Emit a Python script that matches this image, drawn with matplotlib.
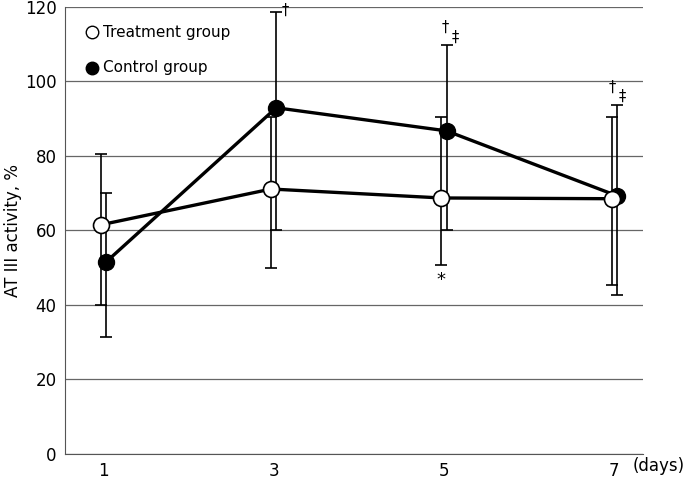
import matplotlib.pyplot as plt
import numpy as np

days = [1, 3, 5, 7]
day_labels = ['1', '3', '5', '7']

# mean and error bar ends
treat_mean = [61.5, 71.1, 68.7, 68.5]
treat_upper = [80.5, 90.5, 90.5, 90.5]
treat_lower = [40.0, 49.9, 50.7, 45.4]

ctrl_mean = [51.5, 92.9, 86.7, 69.3]
ctrl_upper = [70.0, 118.7, 109.8, 93.7]
ctrl_lower = [31.4, 60.1, 60.1, 42.7]

# significance marks near the control bars: (text, x, y)
marks = [('†', 3.14, 119.0),
         ('†', 5.01, 114.4), ('‡', 5.13, 111.7),
         ('†', 6.98, 98.3), ('‡', 7.09, 95.9)]

yticks = [0, 20, 40, 60, 80, 100, 120]

fig = plt.figure(figsize=(6.85, 4.82), dpi=100)
ax = fig.add_axes([0.095, 0.058, 0.844, 0.928])

x = np.array(days, dtype=float)
xt = x - 0.03
xc = x + 0.03

t_mean = np.array(treat_mean)
c_mean = np.array(ctrl_mean)
t_err = [t_mean - np.array(treat_lower), np.array(treat_upper) - t_mean]
c_err = [c_mean - np.array(ctrl_lower), np.array(ctrl_upper) - c_mean]

ax.errorbar(xc, c_mean, yerr=c_err, fmt='none', ecolor='black', elinewidth=1.2,
            capsize=4, capthick=1.2, zorder=3)
ax.errorbar(xt, t_mean, yerr=t_err, fmt='none', ecolor='black', elinewidth=1.2,
            capsize=4, capthick=1.2, zorder=3)
ax.plot(xc, c_mean, color='black', lw=2.4, marker='o', ms=11.5,
        mfc='black', mec='black', zorder=4)
ax.plot(xt, t_mean, color='black', lw=2.4, marker='o', ms=11.5,
        mfc='white', mec='black', mew=1.2, zorder=5)

for s, mx, my in marks:
    ax.text(mx, my, s, fontsize=10.5, ha='center', va='center', clip_on=False)
ax.text(5 - 0.03, treat_lower[2] - 1.5, '*', fontsize=13, ha='center', va='top')

# legend drawn as text inside the plot
ax.plot([0.87], [113.2], 'o', ms=9, mfc='white', mec='black', mew=1, clip_on=False)
ax.text(1.0, 113.2, 'Treatment group', fontsize=11, va='center')
ax.plot([0.87], [103.7], 'o', ms=9, mfc='black', mec='black', clip_on=False)
ax.text(1.0, 103.7, 'Control group', fontsize=11, va='center')

ax.set_xlim(0.55, 7.34)
ax.set_ylim(0, 120)
ax.set_yticks(yticks)
ax.set_yticklabels([str(v) for v in yticks], fontsize=12)
ax.set_xticks(days)
ax.set_xticklabels(day_labels, fontsize=12)
ax.tick_params(length=0, pad=6)
ax.yaxis.grid(True, color='#666666', lw=0.9)
ax.set_axisbelow(True)
for s in ['top', 'right']:
    ax.spines[s].set_visible(False)
ax.spines['left'].set_color('#555555')
ax.spines['bottom'].set_color('#555555')
ax.set_ylabel('AT III activity, %', fontsize=12, labelpad=2)
fig.text(0.962, 0.033, '(days)', fontsize=12, ha='center', va='center')

fig.savefig('out.png', dpi=100)
